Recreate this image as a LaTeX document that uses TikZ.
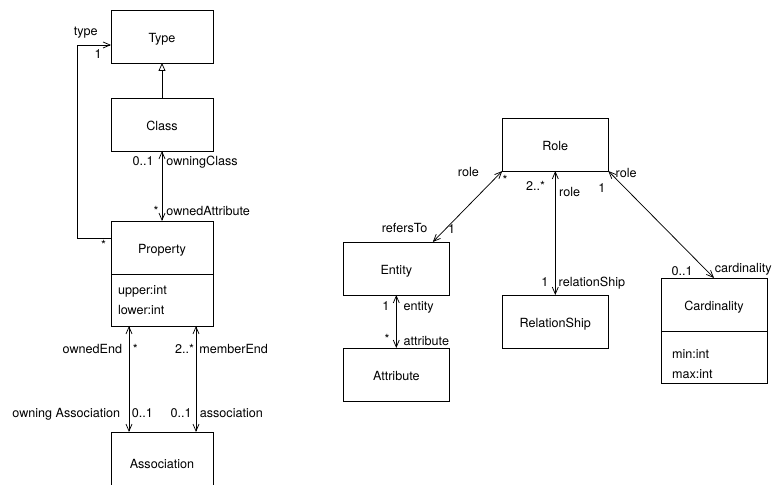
\documentclass[tikz,border=0pt]{standalone}
\usepackage{fontspec}
\setmainfont{TeX Gyre Heros}
\usetikzlibrary{arrows.meta,positioning}

\begin{document}
\begin{tikzpicture}[x=1pt,y=1pt,>={Straight Barb[length=7pt,width=6pt]},line width=0.75pt,
  font=\fontsize{12.6pt}{20pt}\selectfont]
\tikzstyle{cls}=[draw,line width=0.9pt,minimum width=102pt,minimum height=53pt,inner sep=0pt,outer sep=0pt,text height=13pt,text depth=0pt]
\tikzstyle{ent}=[cls,minimum width=106pt]
\tikzstyle{attrs}=[draw,line width=0.9pt,minimum height=52pt,text width=88pt,inner xsep=7pt,inner ysep=0pt,outer sep=0pt,align=left]
\tikzstyle{lbl}=[inner sep=0pt,text height=9pt,text depth=2.5pt]
\useasboundingbox (0,0) rectangle (775,484);

% metamodel
\node[cls] (Type) at (162,447.5) {Type};
\node[cls] (Class) [below=35pt of Type] {Class};
\node[cls] (Property) [below=70pt of Class] {Property};
\node[attrs] (PropertyAttrs) [below=0pt of Property] {upper:int\\lower:int};
\node[cls,minimum height=60pt] (Association) [below=106pt of PropertyAttrs] {Association};

% ER model
\node[ent] (Role) at (555.3,339.5) {Role};
\node[ent] (Entity) at (396.3,215.5) {Entity};
\node[ent] (Attribute) [below=53pt of Entity] {Attribute};
\node[ent] (RelationShip) [below=124pt of Role] {RelationShip};
\node[ent] (Cardinality) at (714,179.5) {Cardinality};
\node[attrs,text width=84pt,inner xsep=11pt,text depth=6pt] (CardinalityAttrs) [below=0pt of Cardinality] {min:int\\max:int};

\draw[-{Triangle[open,length=8pt,width=7pt]}] (Class) -- (Type);
\draw[->] ([yshift=-17pt]Property.north west) node[lbl,below left=2.5pt and 4.5pt]{*}
  -- ++(-34pt,0) |- ([yshift=18pt]Type.south west)
  node[lbl,at end,above left=6.5pt and 13pt]{type}
  node[lbl,at end,below left=4pt and 9pt]{1};
\path
(Class) edge[<->]
  node[lbl,at start,below left=5pt and 8pt]{0..1}
  node[lbl,at start,below right=5pt and 4pt]{owningClass}
  node[lbl,at end,above left=2.5pt and 3pt]{*}
  node[lbl,at end,above right=2.5pt and 4pt]{ownedAttribute} (Property)
([xshift=-33pt]PropertyAttrs.south) edge[<->]
  node[lbl,at start,below left=18.5pt and 6.5pt]{ownedEnd}
  node[lbl,at start,below right=18.5pt and 3.5pt]{*}
  node[lbl,at end,above left=12pt and 8.5pt]{owning Association}
  node[lbl,at end,above right=12pt and 2.5pt]{0..1} ([xshift=-33pt]Association.north)
([xshift=34pt]PropertyAttrs.south) edge[<->]
  node[lbl,at start,below left=18.5pt and 1.5pt]{2..*}
  node[lbl,at start,below right=18.5pt and 3pt]{memberEnd}
  node[lbl,at end,above left=12pt and 4pt]{0..1}
  node[lbl,at end,above right=12pt and 3.5pt]{association} ([xshift=34pt]Association.north);

\path
(Role.south west) edge[<->]
  node[lbl,at start,left=23pt,yshift=-2pt]{role}
  node[lbl,at start,below right=4pt and 0pt]{*}
  node[lbl,at end,above left=7pt and 5pt]{refersTo}
  node[lbl,at end,above right=5.5pt and 15pt]{1} ([xshift=36.5pt]Entity.north)
(Role) edge[<->]
  node[lbl,at start,below left=10.5pt and 10pt]{2..*}
  node[lbl,at start,below right=16.5pt and 3.5pt]{role}
  node[lbl,at end,above left=6pt and 6.5pt]{1}
  node[lbl,at end,above right=5.5pt and 3pt]{relationShip} (RelationShip)
(Role.south east) edge[<->]
  node[lbl,at start,below right=-2.5pt and 7pt]{role}
  node[lbl,at start,below left=12.5pt and 2.5pt]{1}
  node[lbl,at end,above left=0pt and 21pt]{0..1}
  node[lbl,at end,above right=3pt and 0.5pt]{cardinality} (Cardinality.north)
(Entity) edge[<->]
  node[lbl,at start,below left=6pt and 6.5pt]{1}
  node[lbl,at start,below right=6pt and 7pt]{entity}
  node[lbl,at end,above left=2pt and 6.5pt]{*}
  node[lbl,at end,above right=0pt and 7pt]{attribute} (Attribute);
\end{tikzpicture}
\end{document}
